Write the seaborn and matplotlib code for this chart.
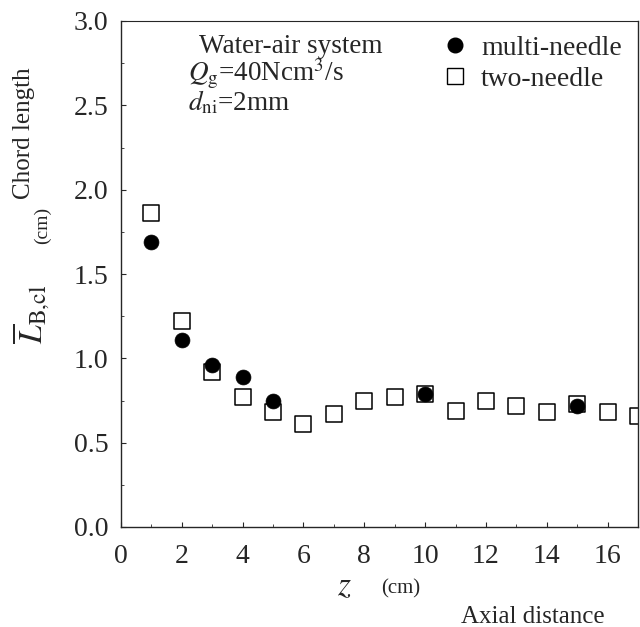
import matplotlib
matplotlib.use("Agg")
import matplotlib.pyplot as plt
import seaborn as sns
import pandas as pd
from matplotlib.ticker import MultipleLocator
from matplotlib.lines import Line2D

two_z = [1, 2, 3, 4, 5, 6, 7, 8, 9, 10, 11, 12, 13, 14, 15, 16, 17]
two_L = [1.86, 1.22, 0.92, 0.77, 0.68, 0.61, 0.67, 0.75, 0.77, 0.79, 0.69, 0.75, 0.72, 0.68, 0.73, 0.68, 0.66]
multi_z = [1, 2, 3, 4, 5, 10, 15]
multi_L = [1.69, 1.11, 0.96, 0.89, 0.75, 0.79, 0.72]
y_ticks = [0, 0.5, 1.0, 1.5, 2.0, 2.5, 3.0]
y_ticklabels = ["0.0", "0.5", "1.0", "1.5", "2.0", "2.5", "3.0"]

sns.set_style("ticks")
plt.rcParams['font.family'] = ['Liberation Serif', 'DejaVu Serif']
plt.rcParams['mathtext.fontset'] = 'stix'

fig = plt.figure(figsize=(6.4, 6.27), dpi=100)
ax = fig.add_axes([121 / 640, 1 - 527 / 627, 517 / 640, 506 / 627])

df_two = pd.DataFrame({"z": two_z, "L": two_L})
df_multi = pd.DataFrame({"z": multi_z, "L": multi_L})

sns.scatterplot(data=df_two, x="z", y="L", ax=ax, marker="s", s=125,
                facecolor="white", edgecolor="black", linewidth=1.1, zorder=2)
sns.scatterplot(data=df_multi, x="z", y="L", ax=ax, marker="o", s=115,
                color="black", edgecolor="black", linewidth=0.5, zorder=3)

ax.set_xlim(0, 17)
ax.set_ylim(0, 3.0)
ax.xaxis.set_major_locator(MultipleLocator(2))
ax.xaxis.set_minor_locator(MultipleLocator(1))
ax.set_yticks(y_ticks)
ax.set_yticklabels(y_ticklabels)
ax.yaxis.set_minor_locator(MultipleLocator(0.25))
ax.tick_params(which="both", direction="in", top=False, right=False, labelsize=20)
ax.tick_params(which="major", length=3.5)
ax.tick_params(which="minor", length=2)
ax.tick_params(axis="x", which="major", pad=12.5)
ax.tick_params(axis="y", which="major", pad=9)
for sp in ax.spines.values():
    sp.set_linewidth(1.0)
ax.spines["top"].set_linewidth(0.8)
ax.set_xlabel("")
ax.set_ylabel("")


def fx(px):
    return px / 640


def fy(py):
    return 1 - py / 627


fig.text(fx(199), fy(53), "Water-air system", fontsize=19.5, va="baseline")
fig.text(fx(188), fy(81), "$Q_\\mathrm{g}$=40Ncm$^3$/s", fontsize=19.5, va="baseline")
fig.text(fx(188), fy(110), "$d_\\mathrm{ni}$=2mm", fontsize=19.5, va="baseline")

handles = [Line2D([], [], marker="o", color="black", linestyle="", markersize=10.5),
           Line2D([], [], marker="s", markerfacecolor="white", markeredgecolor="black",
                  linestyle="", markersize=11)]
ax.legend(handles, ["multi-needle", "two-needle"], loc="upper left",
          bbox_to_anchor=(0.584, 0.994), frameon=False, fontsize=20,
          handletextpad=0.2, labelspacing=0.2, borderaxespad=0.0, handlelength=1.5)

fig.text(fx(24), fy(133), "Chord length", rotation=90, fontsize=18, ha="center", va="center")
fig.text(fx(42), fy(225), "(cm)", rotation=90, fontsize=14, ha="center", va="center")
fig.text(fx(31), fy(314), "$\\overline{L}_{\\mathrm{B{,}cl}}$", rotation=90, fontsize=24,
         ha="center", va="center")
fig.text(fx(344), fy(595), "$z$", fontsize=24, ha="center", va="baseline")
fig.text(fx(401), fy(593), "(cm)", fontsize=15, ha="center", va="baseline")
fig.text(fx(533), fy(623), "Axial distance", fontsize=18, ha="center", va="baseline")

fig.savefig("out.png", dpi=100)
